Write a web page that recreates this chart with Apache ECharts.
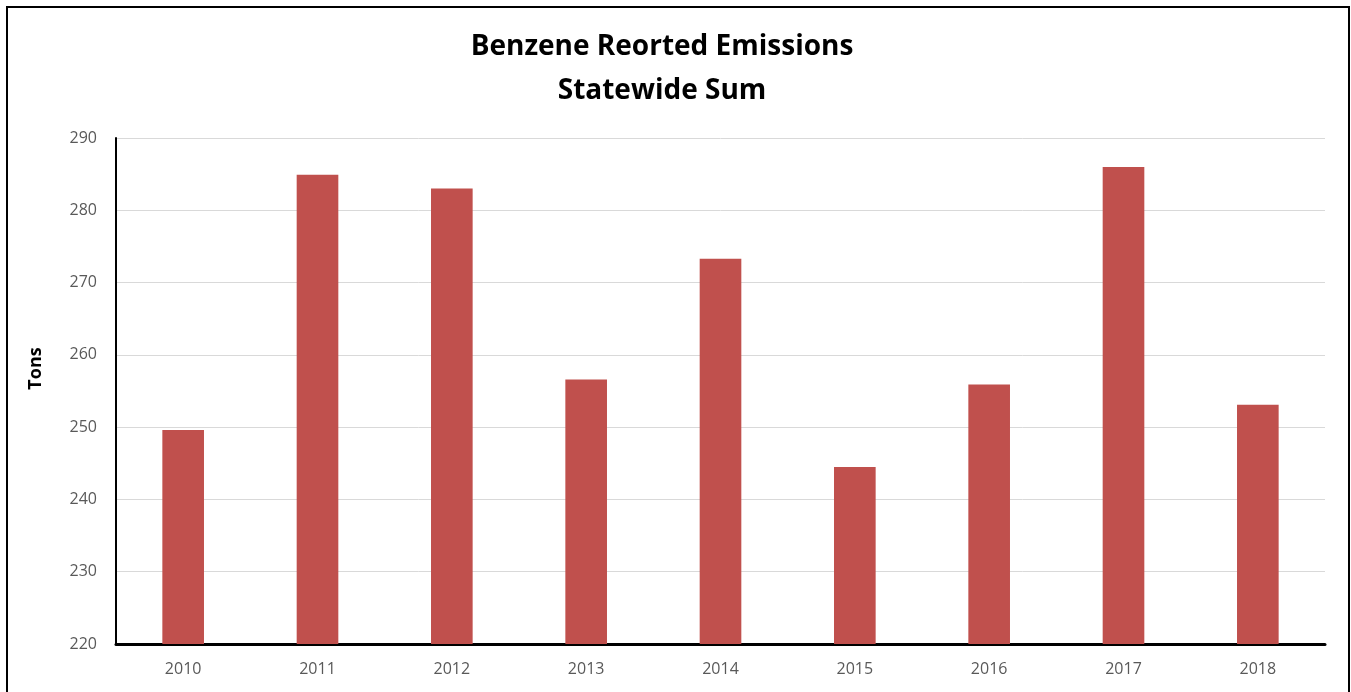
<!DOCTYPE html>
<html>
<head>
<meta charset="utf-8">
<script src="https://cdn.jsdelivr.net/npm/echarts@6/dist/echarts.min.js"></script>
<style>
  html, body { margin: 0; padding: 0; background: #fff; }
  #chart { width: 1351px; height: 692px; }
  #frame {
    position: absolute; left: 6px; top: 6px; width: 1340px; height: 700px;
    border: 2px solid #000; pointer-events: none;
  }
</style>
</head>
<body>
<div id="chart"></div>
<div id="frame"></div>
<script>
const years = ["2010", "2011", "2012", "2013", "2014", "2015", "2016", "2017", "2018"];
const tons = [249.6, 284.9, 283.0, 256.6, 273.3, 244.5, 255.9, 286.0, 253.1];
const yTicks = [220, 230, 240, 250, 260, 270, 280, 290];

const chart = echarts.init(document.getElementById("chart"));
chart.setOption({
  animation: false,
  title: {
    text: "Benzene Reorted Emissions\nStatewide Sum",
    left: 657,
    textAlign: "center",
    top: 20,
    textStyle: {
      fontFamily: "Open Sans",
      fontWeight: "bold",
      fontSize: 28,
      lineHeight: 44,
      color: "#000"
    }
  },
  grid: {
    left: 116,
    right: 26,
    top: 138,
    bottom: 48
  },
  xAxis: {
    type: "category",
    data: years,
    axisLine: { lineStyle: { color: "#000", width: 3 } },
    axisTick: { show: false },
    axisLabel: {
      margin: 17,
      color: "#595959",
      fontFamily: "Open Sans",
      fontSize: 16
    }
  },
  yAxis: {
    type: "value",
    min: yTicks[0],
    max: yTicks[yTicks.length - 1],
    interval: 10,
    name: "Tons",
    nameLocation: "middle",
    nameGap: 71,
    nameTextStyle: {
      fontFamily: "Open Sans",
      fontWeight: "bold",
      fontSize: 18,
      color: "#000",
      padding: [0, 0, 0, 45]
    },
    axisLine: { show: true, lineStyle: { color: "#000", width: 2 } },
    axisTick: { show: false },
    axisLabel: {
      margin: 19,
      color: "#595959",
      fontFamily: "Open Sans",
      fontSize: 16
    },
    splitLine: { lineStyle: { color: "#d9d9d9", width: 1 } }
  },
  series: [
    {
      type: "bar",
      data: tons,
      barWidth: "31%",
      itemStyle: { color: "#c0504d" }
    }
  ]
});
</script>
</body>
</html>
